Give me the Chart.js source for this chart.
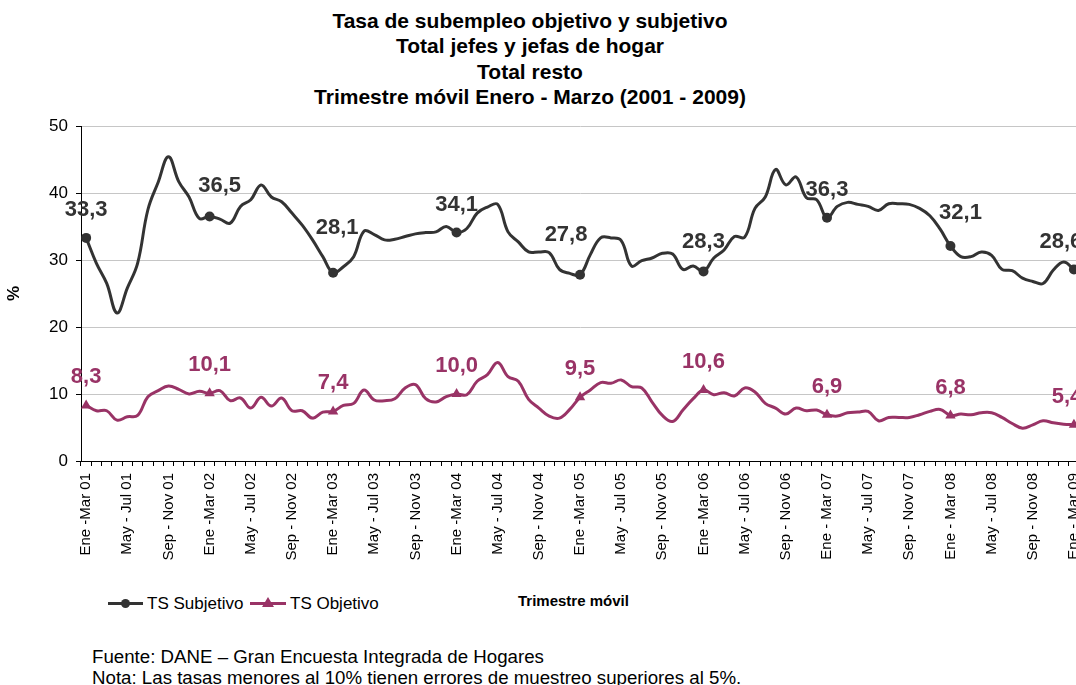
<!DOCTYPE html>
<html>
<head>
<meta charset="utf-8">
<script src="https://cdn.jsdelivr.net/npm/chart.js@4.4.1/dist/chart.umd.min.js"></script>
<style>
  html, body { margin: 0; padding: 0; background: #fff; overflow: hidden; }
  body { width: 1076px; height: 685px; position: relative; font-family: "Liberation Sans", Arial, sans-serif; color: #000; }
  #wrap { position: absolute; left: 0; top: 0; width: 1099px; height: 585px; }
  .titulo { position: absolute; left: 0; top: 8px; width: 1060px; text-align: center; font-weight: bold; font-size: 21px; line-height: 25.3px; }
  .abs { position: absolute; }
  .leg-txt { position: absolute; font-size: 17px; line-height: 20px; top: 594px; white-space: nowrap; }
  .tri { position: absolute; width: 0; height: 0; border-left: 6px solid transparent; border-right: 6px solid transparent; border-bottom: 10px solid #993366; }
  .eje-x { position: absolute; left: 518px; top: 592px; font-size: 15px; font-weight: bold; white-space: nowrap; }
  .nota { position: absolute; left: 92px; top: 646px; font-size: 18.7px; line-height: 21px; white-space: nowrap; }
</style>
</head>
<body>
<div class="titulo">Tasa de subempleo objetivo y subjetivo<br>Total jefes y jefas de hogar<br>Total resto<br>Trimestre móvil Enero - Marzo (2001 - 2009)</div>
<div id="wrap"><canvas id="grafico" width="1099" height="585"></canvas></div>

<!-- leyenda -->
<div class="abs" style="left:108px;top:602px;width:35px;height:3px;background:#333;"></div>
<div class="abs" style="left:121px;top:599px;width:9px;height:9px;border-radius:50%;background:#333;"></div>
<div class="leg-txt" style="left:147px;">TS Subjetivo</div>
<div class="abs" style="left:250px;top:602px;width:36px;height:3px;background:#993366;"></div>
<div class="tri" style="left:262px;top:597px;"></div>
<div class="leg-txt" style="left:290px;">TS Objetivo</div>
<div class="eje-x">Trimestre móvil</div>

<div class="nota">Fuente: DANE – Gran Encuesta Integrada de Hogares<br>Nota: Las tasas menores al 10% tienen errores de muestreo superiores al 5%.</div>

<script>
// trimestres moviles: Ene-Mar 01 ... Ene-Mar 09
const periodos = ['Ene - Mar','Feb - Abr','Mar - May','Abr - Jun','May - Jul','Jun - Ago','Jul - Sep','Ago - Oct','Sep - Nov','Oct - Dic','Nov - Ene','Dic - Feb'];
const anios = ['01','02','03','04','05','06','07','08','09'];

const tsSubjetivo = [
  33.3, 29.5, 26.5, 22.1, 25.8, 29.5, 37.5, 41.6, 45.4, 41.7, 39.4, 36.2,
  36.5, 36.1, 35.5, 38.0, 39.0, 41.2, 39.4, 38.7, 37.0, 35.2, 33.0, 30.5,
  28.1, 29.0, 30.5, 34.3, 33.8, 33.0, 33.1, 33.5, 33.9, 34.1, 34.2, 35.0,
  34.1, 34.7, 37.0, 37.9, 38.3, 34.2, 32.7, 31.2, 31.2, 31.1, 28.6, 28.0,
  27.8, 30.8, 33.3, 33.3, 32.9, 29.1, 29.9, 30.3, 31.0, 30.9, 28.6, 29.1,
  28.3, 30.3, 31.5, 33.5, 33.4, 37.7, 39.4, 43.5, 41.2, 42.4, 39.3, 39.0,
  36.3, 38.0, 38.6, 38.3, 38.0, 37.4, 38.4, 38.4, 38.3, 37.7, 36.6, 34.6,
  32.1, 30.5, 30.5, 31.2, 30.7, 28.6, 28.4, 27.3, 26.8, 26.5, 28.5, 29.7,
  28.6
];
const tsObjetivo = [
  8.3, 7.5, 7.5, 6.1, 6.6, 6.8, 9.6, 10.5, 11.2, 10.7, 10.0, 10.4,
  10.1, 10.5, 9.0, 9.4, 7.9, 9.5, 8.2, 9.4, 7.5, 7.5, 6.4, 7.3,
  7.4, 8.3, 8.6, 10.6, 9.1, 9.0, 9.3, 10.9, 11.4, 9.3, 8.8, 9.6,
  10.0, 9.9, 11.9, 12.9, 14.7, 12.6, 11.9, 9.2, 7.9, 6.7, 6.4, 7.7,
  9.5, 10.6, 11.7, 11.6, 12.1, 11.1, 10.9, 8.8, 6.8, 5.9, 7.6, 9.3,
  10.6, 9.9, 10.2, 9.7, 10.9, 10.3, 8.6, 7.9, 7.0, 7.9, 7.5, 7.6,
  6.9, 6.7, 7.2, 7.3, 7.4, 6.0, 6.5, 6.5, 6.5, 6.9, 7.4, 7.7,
  6.8, 7.0, 6.9, 7.2, 7.2, 6.5, 5.6, 4.9, 5.4, 6.0, 5.7, 5.5,
  5.4
];

const categorias = [];
anios.forEach((a, y) => {
  periodos.forEach((p, k) => {
    if (y === anios.length - 1 && k > 0) return;
    categorias.push(p + ' ' + a);
  });
});

const fuente = '"Liberation Sans", Arial, sans-serif';

// etiquetas de valor cada 12 trimestres
const etiquetas = {
  id: 'etiquetas',
  afterDatasetsDraw(chart, args, opts) {
    const ctx = chart.ctx;
    chart.data.datasets.forEach((ds, d) => {
      const meta = chart.getDatasetMeta(d);
      const offs = opts.offsets[d];
      let k = 0;
      meta.data.forEach((pt, i) => {
        if (i % 12 !== 0) return;
        const o = offs[k++] || [0, -28];
        ctx.save();
        ctx.font = 'bold 22px ' + fuente;
        ctx.fillStyle = ds.borderColor;
        ctx.textAlign = 'center';
        ctx.textBaseline = 'middle';
        ctx.fillText(ds.data[i].toFixed(1).replace('.', ','), pt.x + o[0], pt.y + o[1]);
        ctx.restore();
      });
    });
  }
};

const ctx = document.getElementById('grafico').getContext('2d');
const grafico = new Chart(ctx, {
  type: 'line',
  data: {
    labels: categorias,
    datasets: [
      {
        label: 'TS Subjetivo',
        data: tsSubjetivo,
        borderColor: '#333333',
        backgroundColor: '#333333',
        borderWidth: 3,
        tension: 0.4,
        pointStyle: 'circle',
        pointRadius: c => c.dataIndex % 12 === 0 ? 5 : 0,
        pointBorderWidth: 0
      },
      {
        label: 'TS Objetivo',
        data: tsObjetivo,
        borderColor: '#993366',
        backgroundColor: '#993366',
        borderWidth: 3,
        tension: 0.4,
        pointStyle: 'triangle',
        pointRadius: c => c.dataIndex % 12 === 0 ? 6 : 0,
        pointBorderWidth: 0
      }
    ]
  },
  options: {
    responsive: false,
    animation: false,
    layout: { padding: { top: 126, right: 12, left: 0, bottom: 0 } },
    scales: {
      x: {
        type: 'category',
        offset: true,
        afterFit: s => { s.height = 124; },
        border: { color: '#000', width: 1 },
        grid: { offset: true, drawOnChartArea: false, drawTicks: true, tickLength: 5, tickColor: '#000' },
        ticks: {
          autoSkip: false,
          minRotation: 90,
          maxRotation: 90,
          padding: 7,
          color: '#000',
          font: { family: fuente, size: 15 },
          callback: function (v, i) {
            if (i % 4 !== 0) return '';
            let t = this.getLabelForValue(v);
            if (i % 12 === 0 && i < 72) t = t.replace('Ene - Mar', 'Ene -Mar');
            return t;
          }
        }
      },
      y: {
        min: 0,
        max: 50,
        afterFit: s => { s.width = 81; },
        border: { color: '#000', width: 1 },
        grid: { color: '#c6c6c6', tickColor: '#000', tickLength: 5 },
        ticks: { stepSize: 10, padding: 8, color: '#000', font: { family: fuente, size: 17 } },
        title: { display: true, text: '%', color: '#000', font: { family: fuente, size: 17, weight: 'bold' } }
      }
    },
    plugins: {
      legend: { display: false },
      tooltip: { enabled: false },
      etiquetas: {
        offsets: [
          [[0, -28], [10, -31], [4, -45], [0, -28], [-14, -40], [0, -29], [0, -28], [10, -33], [-13, -27]],
          [[0, -28], [0, -28], [0, -28], [0, -28], [0, -28], [0, -28], [0, -28], [0, -28], [-7, -28]]
        ]
      }
    }
  },
  plugins: [etiquetas]
});
</script>
</body>
</html>
